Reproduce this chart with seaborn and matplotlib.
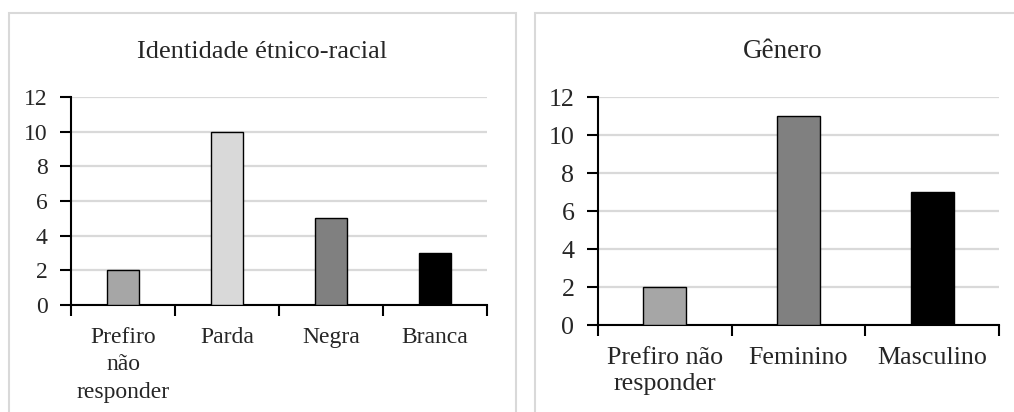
import matplotlib
matplotlib.use("Agg")
import matplotlib.pyplot as plt
import seaborn as sns
import pandas as pd
from matplotlib.patches import Rectangle
from matplotlib.ticker import FixedLocator

# data
race_labels = ["Prefiro\nnão\nresponder", "Parda", "Negra", "Branca"]
race_counts = [2, 10, 5, 3]
race_colors = ["#a6a6a6", "#d9d9d9", "#808080", "#000000"]

gender_labels = ["Prefiro não\nresponder", "Feminino", "Masculino"]
gender_counts = [2, 11, 7]
gender_colors = ["#a6a6a6", "#808080", "#000000"]

yticks = [0, 2, 4, 6, 8, 10, 12]

sns.set_style("white")
plt.rcParams['font.family'] = ['Liberation Serif', 'DejaVu Serif']

fig = plt.figure(figsize=(10.14, 4.12), dpi=100)

# light gray panel frames
for x0, w in [(9, 507), (535, 490)]:
    fig.patches.append(Rectangle((x0 / 1014, -0.1), w / 1014, (412 - 13) / 412 + 0.1,
                                 transform=fig.transFigure, fill=False,
                                 edgecolor="#d9d9d9", linewidth=1.5, zorder=0))


def draw(ax, labels, counts, colors, width, fs, linespacing):
    df = pd.DataFrame({"cat": labels, "n": counts})
    sns.barplot(data=df, x="cat", y="n", hue="cat", palette=colors, legend=False,
                width=width, edgecolor="black", linewidth=1.0, ax=ax, zorder=3)
    n = len(labels)
    ax.set_xlim(-0.5, n - 0.5)
    ax.set_ylim(0, 12)
    ax.set_yticks(yticks)
    ax.yaxis.grid(True, color="#d9d9d9", linewidth=1.6, zorder=0)
    ax.set_axisbelow(True)
    for s in ["top", "right"]:
        ax.spines[s].set_visible(False)
    for s in ["left", "bottom"]:
        ax.spines[s].set_color("black")
        ax.spines[s].set_linewidth(1.5)
    ax.xaxis.set_minor_locator(FixedLocator([i - 0.5 for i in range(n + 1)]))
    ax.tick_params(axis="x", which="major", length=0, pad=15.5, labelsize=fs)
    ax.tick_params(axis="x", which="minor", length=8, width=1.5, color="black",
                   direction="out", bottom=True)
    ax.tick_params(axis="y", length=8, width=1.5, color="black", direction="out",
                   left=True, pad=9, labelsize=fs)
    for t in ax.get_xticklabels():
        t.set_linespacing(linespacing)
        t.set_ha("center")
    ax.set_xlabel("")
    ax.set_ylabel("")


ax1 = fig.add_axes([71 / 1014, 107 / 412, 416 / 1014, 208 / 412])
draw(ax1, race_labels, race_counts, race_colors, 0.31, 17, 1.43)

ax2 = fig.add_axes([598 / 1014, 87 / 412, 401 / 1014, 228 / 412])
draw(ax2, gender_labels, gender_counts, gender_colors, 0.32, 18.7, 1.27)

fig.text(262 / 1014, 1 - 58 / 412, "Identidade étnico-racial", ha="center", va="baseline", fontsize=19)
fig.text(783 / 1014, 1 - 58 / 412, "Gênero", ha="center", va="baseline", fontsize=19.5)

fig.savefig("out.png", dpi=100)
